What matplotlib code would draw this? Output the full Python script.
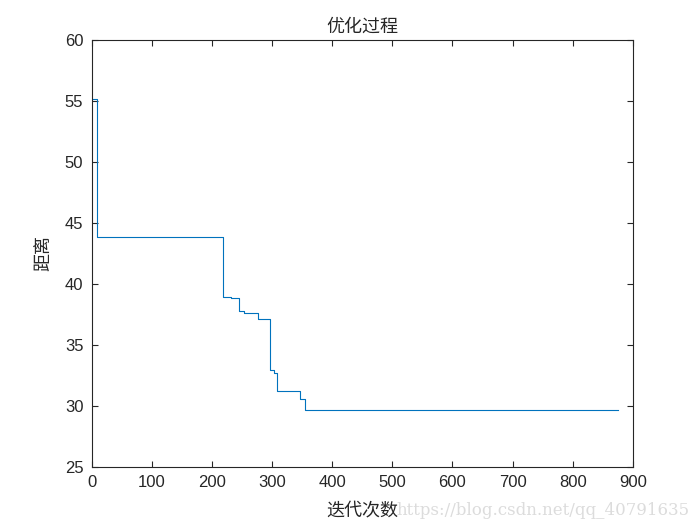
import matplotlib
matplotlib.use('Agg')
import matplotlib.pyplot as plt

# 迭代中距离发生变化的位置与对应值
iters = [1, 8, 219, 232, 245, 253, 277, 297, 303, 308, 346, 354, 876]
dist = [55.15, 43.85, 38.95, 38.85, 37.8, 37.65, 37.15, 32.95, 32.7, 31.2, 30.6, 29.7, 29.7]

xticks = [0, 100, 200, 300, 400, 500, 600, 700, 800, 900]
yticks = [25, 30, 35, 40, 45, 50, 55, 60]

cjk = ['Noto Sans CJK SC', 'DejaVu Sans']
plt.rcParams['font.family'] = ['Liberation Sans', 'DejaVu Sans']

fig = plt.figure(figsize=(7, 5.25), dpi=100)
ax = fig.add_axes([0.131, 0.1105, 0.773, 0.8135])

ax.plot(iters, dist, drawstyle='steps-post', color='#0072BD', linewidth=0.8)

ax.set_xlim(0, 900)
ax.set_ylim(25, 60)
ax.set_xticks(xticks)
ax.set_yticks(yticks)
ax.tick_params(direction='in', top=True, right=True, labelsize=12, length=4,
               width=0.8, colors='#262626', pad=6)
for s in ax.spines.values():
    s.set_color('#262626')
    s.set_linewidth(0.8)

ax.set_title('优化过程', family=cjk, fontsize=13, color='#262626', pad=6)
ax.set_xlabel('迭代次数', family=cjk, fontsize=13, color='#262626', labelpad=8)
ax.set_ylabel('距离', family=cjk, fontsize=13, color='#262626', labelpad=9)

fig.text(0.985, 0.012, 'https://blog.csdn.net/qq_40791635', ha='right', va='bottom',
         fontsize=12, color='#dcdcdc', family=['DejaVu Serif'])

fig.savefig('out.png', dpi=100)
